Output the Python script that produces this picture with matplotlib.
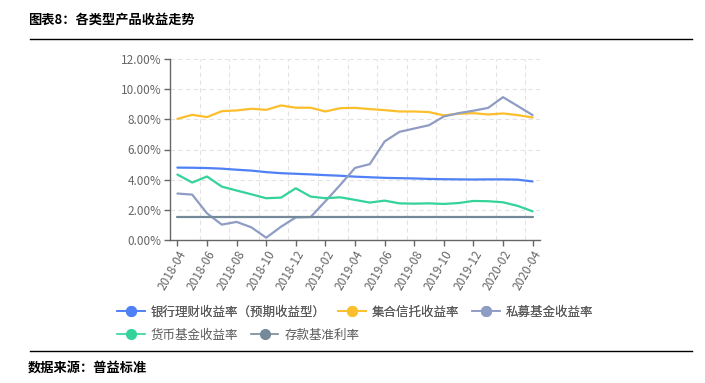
import numpy as np
import matplotlib
matplotlib.use("Agg")
import matplotlib.pyplot as plt
from matplotlib.lines import Line2D

plt.rcParams['font.family'] = ['Noto Sans CJK SC', 'DejaVu Sans']

# monthly data 2018-04 .. 2020-04
months = ['2018-04', '2018-05', '2018-06', '2018-07', '2018-08', '2018-09', '2018-10',
          '2018-11', '2018-12', '2019-01', '2019-02', '2019-03', '2019-04', '2019-05',
          '2019-06', '2019-07', '2019-08', '2019-09', '2019-10', '2019-11', '2019-12',
          '2020-01', '2020-02', '2020-03', '2020-04']

bank = [4.80, 4.79, 4.77, 4.73, 4.66, 4.60, 4.50, 4.43, 4.39, 4.35, 4.30, 4.26, 4.20,
        4.16, 4.12, 4.10, 4.08, 4.05, 4.03, 4.02, 4.01, 4.02, 4.02, 4.00, 3.88]
trust = [8.03, 8.30, 8.15, 8.54, 8.59, 8.70, 8.63, 8.92, 8.77, 8.77, 8.52, 8.74, 8.76,
         8.68, 8.61, 8.52, 8.52, 8.48, 8.26, 8.37, 8.41, 8.32, 8.39, 8.28, 8.12]
private = [3.08, 3.01, 1.77, 1.02, 1.20, 0.84, 0.15, 0.88, 1.50, 1.52, 2.57, 3.65, 4.78,
           5.03, 6.53, 7.17, 7.39, 7.61, 8.19, 8.41, 8.57, 8.76, 9.47, 8.88, 8.28]
money = [4.34, 3.81, 4.21, 3.54, 3.28, 3.03, 2.77, 2.81, 3.43, 2.88, 2.77, 2.83, 2.66,
         2.48, 2.61, 2.43, 2.41, 2.43, 2.39, 2.45, 2.59, 2.57, 2.50, 2.26, 1.90]
deposit = [1.50] * 25

names = ['银行理财收益率（预期收益型）', '集合信托收益率', '私募基金收益率',
         '货币基金收益率', '存款基准利率']
colors = ['#4f80f5', '#fcbf2c', '#8f9cc4', '#33d39a', '#74899a']
series = [bank, trust, private, money, deposit]

fig = plt.figure(figsize=(7.05, 3.83), dpi=100)
ax = fig.add_axes([170 / 705, 1 - 240 / 383, 370 / 705, 181 / 383])

x = np.arange(len(months))
for vals, c in zip(series, colors):
    ax.plot(x, vals, color=c, lw=1.6, solid_capstyle='round')

ax.set_xlim(-0.5, len(months) - 0.5)
ax.set_ylim(0, 12)
ax.set_yticks(np.arange(0, 13, 2))
ax.set_yticklabels(['%.2f%%' % v for v in np.arange(0, 13, 2)])
ax.set_xticks(x[::2])
ax.set_xticklabels(months[::2], rotation=60, ha='right', rotation_mode='anchor')
ax.set_xticks(list(np.arange(1.5, 24, 2)) + [24.5], minor=True)

ax.grid(axis='y', which='major', color='#e3e3e3', ls=(0, (4, 3)), lw=0.8)
ax.grid(axis='x', which='minor', color='#e3e3e3', ls=(0, (4, 3)), lw=0.8)
ax.tick_params(axis='x', which='minor', length=0)
ax.tick_params(axis='both', which='major', length=4, width=1, color='#666666',
               labelcolor='#666666', labelsize=8.5, pad=2)
for s in ['top', 'right']:
    ax.spines[s].set_visible(False)
for s in ['left', 'bottom']:
    ax.spines[s].set_color('#666666')
    ax.spines[s].set_linewidth(1)

handles = [Line2D([], [], color=c, lw=1.2, marker='o', markersize=7) for c in colors]
leg_kw = dict(frameon=False, fontsize=9, handlelength=2.2, handletextpad=0.5,
              columnspacing=1.0, borderaxespad=0, labelcolor='#5a5a5a')
leg1 = fig.legend(handles[:3], names[:3], ncol=3, loc='center left',
                  bbox_to_anchor=(112 / 705, 1 - 312 / 383), **leg_kw)
fig.legend(handles[3:], names[3:], ncol=2, loc='center left',
           bbox_to_anchor=(112 / 705, 1 - 335 / 383), **leg_kw)
fig.add_artist(leg1)

fig.text(28 / 705, 1 - 20 / 383, '图表8：各类型产品收益走势', fontsize=9.5,
         fontweight='bold', va='center', ha='left')
fig.text(28 / 705, 1 - 368 / 383, '数据来源：普益标准', fontsize=9.5,
         fontweight='bold', va='center', ha='left')
fig.add_artist(Line2D([30 / 705, 692 / 705], [1 - 39 / 383] * 2, color='black', lw=1))
fig.add_artist(Line2D([30 / 705, 692 / 705], [1 - 351 / 383] * 2, color='black', lw=1))

fig.savefig('out.png', dpi=100)
